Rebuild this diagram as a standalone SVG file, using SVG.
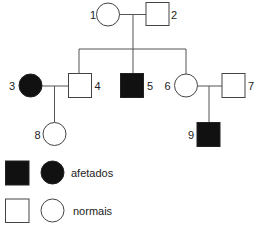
<svg xmlns="http://www.w3.org/2000/svg" width="257" height="228" viewBox="0 0 257 228">
<style>
.ln{stroke:#555;stroke-width:1;fill:none}
.n{fill:#fff;stroke:#444;stroke-width:1}
.a{fill:#111;stroke:#222;stroke-width:1}
text{font-family:"Liberation Sans",Arial,sans-serif;font-size:11px;fill:#222}
.lb{text-anchor:middle;dominant-baseline:central}
</style>
<rect width="257" height="228" fill="#fff"/>
<g id="connectors">
<line class="ln" x1="119" y1="14.5" x2="146" y2="14.5"/>
<line class="ln" x1="133" y1="14.5" x2="133" y2="49"/>
<line class="ln" x1="79" y1="49" x2="186" y2="49"/>
<line class="ln" x1="79" y1="49" x2="79" y2="73.5"/>
<line class="ln" x1="133" y1="49" x2="133" y2="73.5"/>
<line class="ln" x1="186" y1="49" x2="186" y2="74"/>
<line class="ln" x1="42" y1="86" x2="68" y2="86"/>
<line class="ln" x1="54.5" y1="86" x2="54.5" y2="122.5"/>
<line class="ln" x1="197.5" y1="86" x2="222" y2="86"/>
<line class="ln" x1="209" y1="86" x2="209" y2="122.5"/>
</g>
<g id="n1"><circle class="n" cx="108" cy="14.5" r="11.5"/><text class="lb" x="93" y="15">1</text></g>
<g id="n2"><rect class="n" x="146" y="2.5" width="23" height="23"/><text class="lb" x="174" y="15">2</text></g>
<g id="n3"><circle class="a" cx="30.5" cy="85.5" r="11.5"/><text class="lb" x="12" y="86">3</text></g>
<g id="n4"><rect class="n" x="68.5" y="73.5" width="23" height="24"/><text class="lb" x="97.5" y="86">4</text></g>
<g id="n5"><rect class="a" x="120.5" y="73.5" width="23" height="24"/><text class="lb" x="150" y="86">5</text></g>
<g id="n6"><circle class="n" cx="186" cy="85.5" r="11.5"/><text class="lb" x="167.5" y="86">6</text></g>
<g id="n7"><rect class="n" x="222" y="73.5" width="23" height="24"/><text class="lb" x="251" y="86">7</text></g>
<g id="n8"><circle class="n" cx="54.5" cy="134" r="11.5"/><text class="lb" x="37.5" y="134.5">8</text></g>
<g id="n9"><rect class="a" x="197" y="122.5" width="23" height="24"/><text class="lb" x="191" y="134.5">9</text></g>
<g id="legend">
<rect class="a" x="5.5" y="161" width="23.5" height="24"/>
<circle class="a" cx="52.5" cy="172.5" r="11.5"/>
<text x="71" y="177">afetados</text>
<rect class="n" x="5.5" y="199" width="23.5" height="23.5"/>
<circle class="n" cx="52.5" cy="210.5" r="11.5"/>
<text x="73" y="215">normais</text>
</g>
</svg>
